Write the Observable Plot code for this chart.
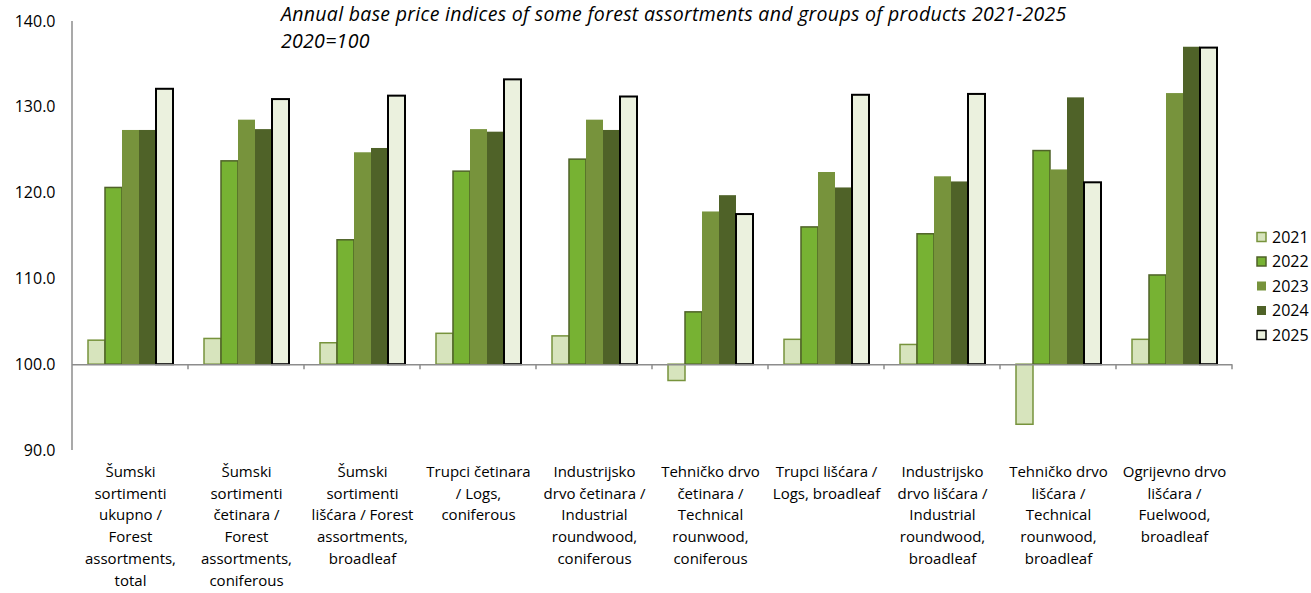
<!DOCTYPE html>
<html>
<head>
<meta charset="utf-8">
<script src="https://cdn.jsdelivr.net/npm/d3@7"></script>
<script src="https://cdn.jsdelivr.net/npm/@observablehq/plot@0.6"></script>
<style>
  html, body { margin: 0; padding: 0; background: white; }
  #wrap { position: relative; width: 1311px; height: 593px; overflow: hidden; }
  .title { position: absolute; left: 281px; font-family: "Open Sans", sans-serif; font-style: italic; font-size: 19.5px; letter-spacing: 0.3px; line-height: 27px; color: #000; white-space: nowrap; z-index: 2; }
</style>
</head>
<body>
<div id="wrap">
  <div class="title" style="top:0px">Annual base price indices of some forest assortments and groups of products 2021-2025</div>
  <div class="title" style="top:27px">2020=100</div>
  <div id="chart"></div>
</div>
<script>
const categories = ["c1","c2","c3","c4","c5","c6","c7","c8","c9","c10"];
const categoryLabels = [
  "Šumski\nsortimenti\nukupno /\nForest\nassortments,\ntotal",
  "Šumski\nsortimenti\nčetinara /\nForest\nassortments,\nconiferous",
  "Šumski\nsortimenti\nlišćara / Forest\nassortments,\nbroadleaf",
  "Trupci četinara\n/ Logs,\nconiferous",
  "Industrijsko\ndrvo četinara /\nIndustrial\nroundwood,\nconiferous",
  "Tehničko drvo\nčetinara /\nTechnical\nrounwood,\nconiferous",
  "Trupci lišćara /\nLogs, broadleaf",
  "Industrijsko\ndrvo lišćara /\nIndustrial\nroundwood,\nbroadleaf",
  "Tehničko drvo\nlišćara /\nTechnical\nrounwood,\nbroadleaf",
  "Ogrijevno drvo\nlišćara /\nFuelwood,\nbroadleaf"
];
const years = ["2021","2022","2023","2024","2025"];
const values2021 = [102.8, 103.0, 102.5, 103.6, 103.3, 98.1, 102.9, 102.3, 93.0, 102.9];
const values2022 = [120.6, 123.7, 114.5, 122.5, 123.9, 106.1, 116.0, 115.2, 124.9, 110.4];
const values2023 = [127.3, 128.5, 124.7, 127.4, 128.5, 117.8, 122.4, 121.9, 122.7, 131.6];
const values2024 = [127.3, 127.4, 125.2, 127.1, 127.3, 119.7, 120.6, 121.3, 131.1, 137.0];
const values2025 = [132.1, 130.9, 131.3, 133.2, 131.2, 117.5, 131.4, 131.5, 121.2, 136.9];
const yTicks = [90, 100, 110, 120, 130, 140];
const baseValue = 100;

const seriesValues = [values2021, values2022, values2023, values2024, values2025];
const seriesStyle = {
  "2021": {fill: "#d7e4bd", stroke: "#77933c", strokeWidth: 1.5},
  "2022": {fill: "#77b233", stroke: "#4f6228", strokeWidth: 1.5},
  "2023": {fill: "#77933c", stroke: "none", strokeWidth: 0},
  "2024": {fill: "#4f6228", stroke: "none", strokeWidth: 0},
  "2025": {fill: "#ebf1de", stroke: "#000000", strokeWidth: 2}
};

const data = categories.flatMap((c, i) => years.map((yr, j) => ({category: c, year: yr, value: seriesValues[j][i]})));
const labelData = categories.map((c, i) => ({category: c, label: categoryLabels[i]}));

const plot = Plot.plot({
  width: 1311,
  height: 593,
  marginTop: 21,
  marginBottom: 143,
  marginLeft: 71,
  marginRight: 78,
  style: {fontFamily: "'Open Sans', sans-serif", fontSize: "16px", color: "#000", background: "white"},
  fx: {domain: categories, padding: 0, axis: null},
  x: {domain: years, paddingInner: 0, paddingOuter: 0.73, axis: null},
  y: {domain: [90, 140], ticks: yTicks, tickFormat: d => d.toFixed(1), tickSize: 0, tickPadding: 17, label: null},
  marks: [
    ...years.map(yr => Plot.barY(data.filter(d => d.year === yr), {
      fx: "category", x: "year", y1: baseValue, y2: "value",
      fill: seriesStyle[yr].fill, stroke: seriesStyle[yr].stroke, strokeWidth: seriesStyle[yr].strokeWidth
    })),
    Plot.ruleY([baseValue], {stroke: "#8c8c8c", strokeWidth: 1.5}),
    Plot.text(labelData, {
      fx: "category", text: "label", frameAnchor: "bottom", lineAnchor: "top",
      dy: 11, lineHeight: 1.45, fontSize: 15, fill: "#000"
    })
  ]
});

document.getElementById("chart").appendChild(plot);

// decorations using the plot's own scales
const fx = plot.scale("fx");
const ys = plot.scale("y");
const svg = d3.select(plot);
const bounds = categories.map(c => fx.apply(c));
bounds.push(fx.apply(categories[categories.length - 1]) + fx.bandwidth);
const y100 = ys.apply(baseValue);
const g = svg.append("g").attr("stroke", "#8c8c8c").attr("stroke-width", 1.5);
g.append("line").attr("x1", bounds[0]).attr("x2", bounds[0]).attr("y1", ys.apply(140)).attr("y2", ys.apply(90));
bounds.slice(1).forEach(b => {
  g.append("line").attr("x1", b).attr("x2", b).attr("y1", y100).attr("y2", y100 + 5);
});

// legend
const lg = svg.append("g").attr("font-family", "'Open Sans', sans-serif").attr("font-size", 16).attr("text-anchor", "start");
years.forEach((yr, i) => {
  const st = seriesStyle[yr];
  const yy = 237 + i * 24.5;
  lg.append("rect").attr("x", 1257).attr("y", yy - 4.5).attr("width", 9).attr("height", 9)
    .attr("fill", st.fill).attr("stroke", st.stroke === "none" ? null : st.stroke)
    .attr("stroke-width", st.strokeWidth ? 1.5 : 0);
  lg.append("text").attr("x", 1272).attr("y", yy).attr("dy", "0.35em").attr("fill", "#000").text(yr);
});
</script>
</body>
</html>
